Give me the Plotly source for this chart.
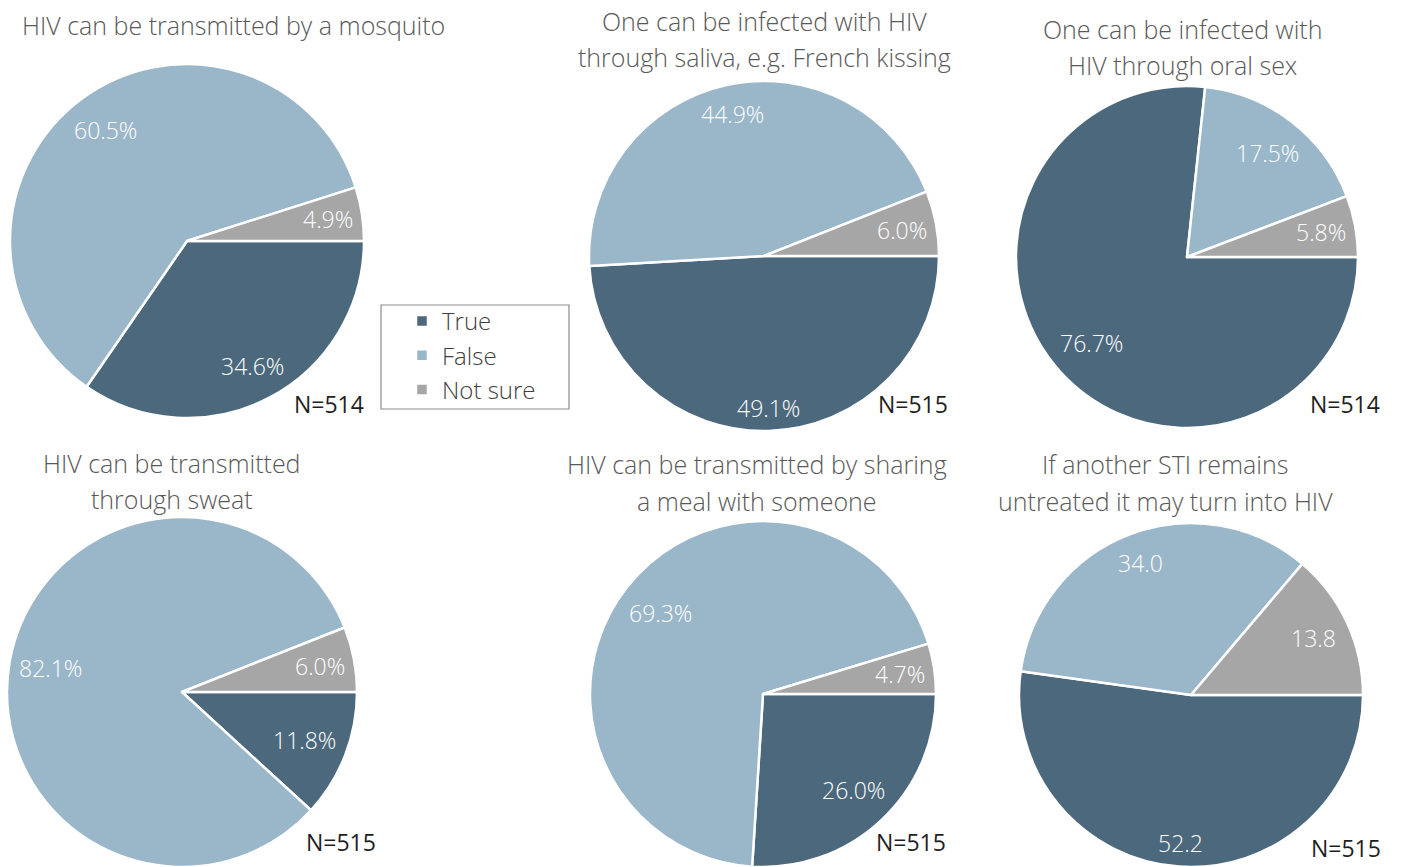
import math
import plotly.graph_objects as go

# ---- data -------------------------------------------------------------
categories = ["True", "False", "Not sure"]
titles = [
    ["HIV can be transmitted by a mosquito"],
    ["One can be infected with HIV", "through saliva, e.g. French kissing"],
    ["One can be infected with", "HIV through oral sex"],
    ["HIV can be transmitted", "through sweat"],
    ["HIV can be transmitted by sharing", "a meal with someone"],
    ["If another STI remains", "untreated it may turn into HIV"],
]
true_pct = [34.6, 49.1, 76.7, 11.8, 26.0, 52.2]
false_pct = [60.5, 44.9, 17.5, 82.1, 69.3, 34.0]
notsure_pct = [4.9, 6.0, 5.8, 6.0, 4.7, 13.8]
n_resp = [514, 515, 514, 515, 515, 515]
value_suffix = ["%", "%", "%", "%", "%", ""]

# ---- layout / style ----------------------------------------------------
W, H = 1403, 867
colors = ["#4b687c", "#9ab6c9", "#a6a6a6"]
# pie centre (px) and radius (px)
centers = [(187, 241), (764, 256), (1187, 257), (182, 692), (763, 694), (1191, 695)]
radii = [177, 175, 171, 175, 173, 172]
# title centre x and first-line y (px), line step
title_pos = [(233, 25), (764, 21), (1182, 29), (172, 463), (757, 464), (1165, 464)]
title_step = 36.5
n_pos = [(329, 404), (913, 404), (1345, 404), (341, 842), (911, 842), (1346, 848)]

LIGHT = "Open Sans"


def px_x(x):
    return min(max(x / W, 0.0), 1.0)


def px_y(y):
    return min(max(1 - y / H, 0.0), 1.0)


fig = go.Figure()
annotations = []

for k in range(6):
    cx, cy = centers[k]
    R = radii[k]
    vals = [true_pct[k], false_pct[k], notsure_pct[k]]
    fig.add_trace(go.Pie(
        labels=categories,
        values=vals,
        sort=False,
        direction="clockwise",
        rotation=90,
        marker=dict(colors=colors, line=dict(color="white", width=2.5)),
        textinfo="none",
        hoverinfo="label+value",
        domain=dict(x=[px_x(cx - R), px_x(cx + R)], y=[px_y(cy + R), px_y(cy - R)]),
        showlegend=(k == 0),
    ))

    # value labels placed inside the outer edge along each slice's mid-angle
    total = sum(vals)
    start = 0.0
    for v in vals:
        sweep = 360.0 * v / total
        mid = math.radians(start + sweep / 2)
        c, s = math.cos(mid), math.sin(mid)
        txt = f"{v:.1f}{value_suffix[k]}"
        half_w = 7.0 * len(txt)
        r = R - 4 - (abs(c) * half_w + abs(s) * 18)
        annotations.append(dict(
            x=px_x(cx + r * c), y=px_y(cy + r * s), xref="paper", yref="paper",
            text=txt, showarrow=False, xanchor="center", yanchor="middle",
            font=dict(family=LIGHT, size=23, color="white", weight=300),
        ))
        start += sweep

    tx, ty = title_pos[k]
    for j, line in enumerate(titles[k]):
        annotations.append(dict(
            x=px_x(tx), y=px_y(ty + j * title_step), xref="paper", yref="paper",
            text=line, showarrow=False, xanchor="center", yanchor="middle",
            font=dict(family=LIGHT, size=25, color="#585858", weight=300),
        ))
    nx, ny = n_pos[k]
    annotations.append(dict(
        x=px_x(nx), y=px_y(ny), xref="paper", yref="paper",
        text=f"N={n_resp[k]}", showarrow=False, xanchor="center", yanchor="middle",
        font=dict(family=LIGHT, size=23, color="#1e1e1e", weight=400),
    ))

fig.update_layout(
    width=W, height=H,
    margin=dict(l=0, r=0, t=0, b=0),
    paper_bgcolor="white",
    plot_bgcolor="white",
    annotations=annotations,
    legend=dict(
        x=px_x(402), y=px_y(299), xanchor="left", yanchor="top",
        bgcolor="rgba(0,0,0,0)", borderwidth=0,
        font=dict(family=LIGHT, size=24, color="#404040", weight=300),
    ),
    shapes=[dict(
        type="rect", xref="paper", yref="paper",
        x0=px_x(381), x1=px_x(569), y0=px_y(409), y1=px_y(305),
        line=dict(color="#8c8c8c", width=1.2),
    )],
)

fig.write_html("out.html")
